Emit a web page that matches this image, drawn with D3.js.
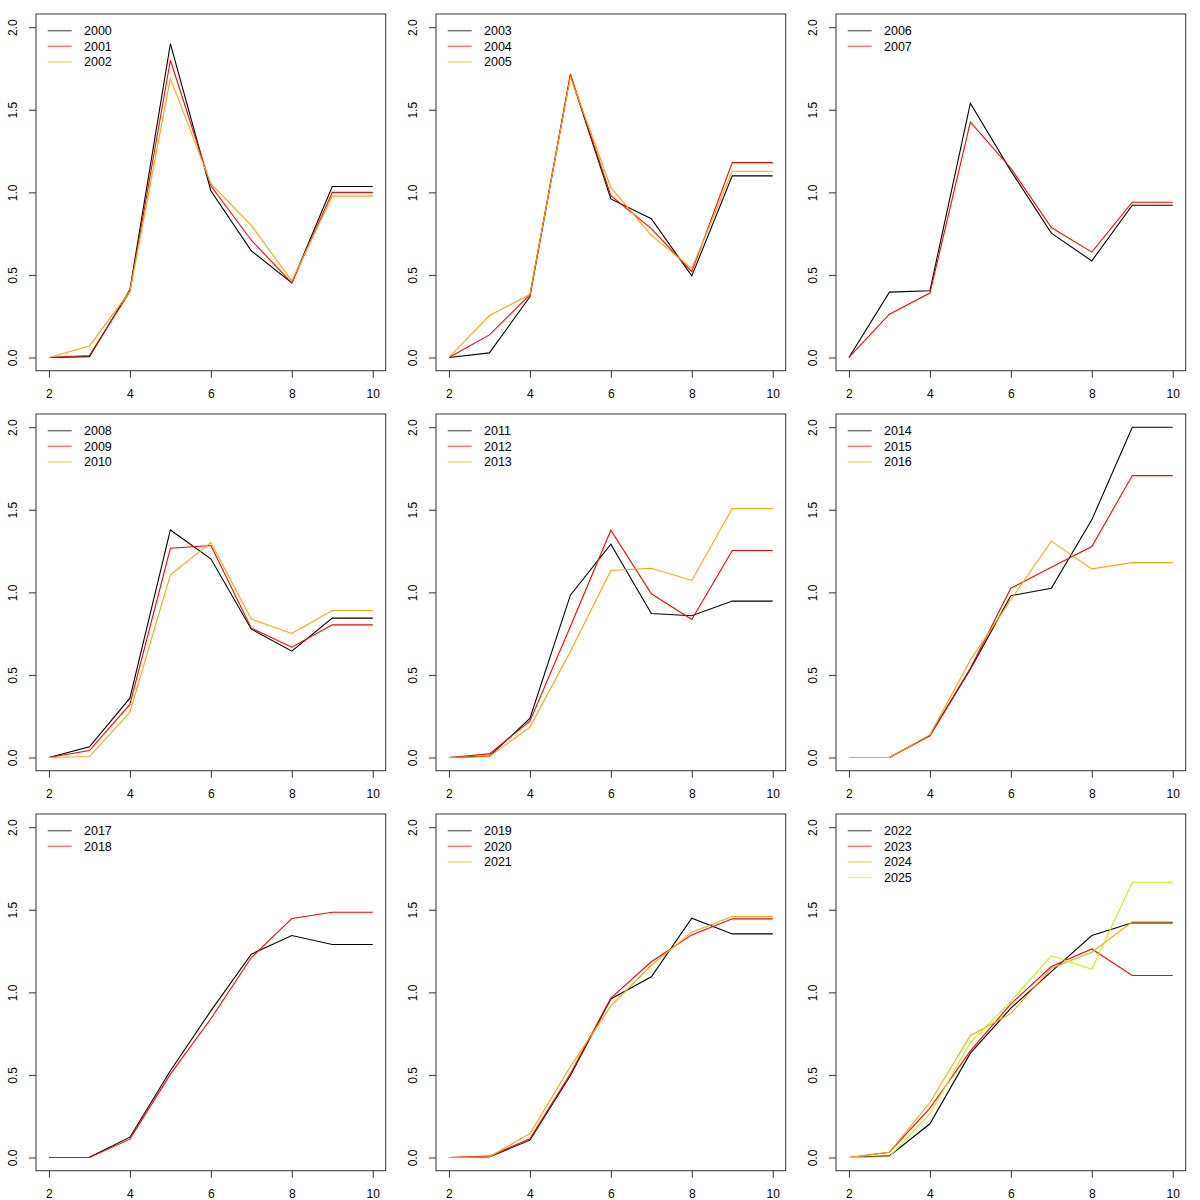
<!DOCTYPE html>
<html>
<head>
<meta charset="utf-8">
<script src="https://cdn.jsdelivr.net/npm/d3@7"></script>
<style>
  body { margin: 0; background: #fff; }
  svg { display: block; font-family: "Liberation Sans", Arial, Helvetica, sans-serif; }
  .tick text { font-size: 12px; fill: #000; }
</style>
</head>
<body>
<div id="chart"></div>
<script>
/**
 * DATA
 * */
const ages = [2, 3, 4, 5, 6, 7, 8, 9, 10];
const yTicks = [0, 0.5, 1, 1.5, 2];
const xTicks = [2, 4, 6, 8, 10];

const y2000 = [0, 0.005, 0.41, 1.90, 1.01, 0.646, 0.452, 1.035, 1.035];
const y2001 = [0, 0.012, 0.40, 1.80, 1.04, 0.71, 0.452, 1.00, 1.00];
const y2002 = [0, 0.07, 0.40, 1.69, 1.053, 0.80, 0.464, 0.977, 0.977];
const y2003 = [0, 0.028, 0.367, 1.71, 0.96, 0.84, 0.494, 1.10, 1.10];
const y2004 = [0, 0.137, 0.38, 1.715, 0.98, 0.78, 0.52, 1.18, 1.18];
const y2005 = [0, 0.254, 0.381, 1.70, 1.03, 0.739, 0.54, 1.128, 1.128];
const y2006 = [0, 0.396, 0.404, 1.54, 1.13, 0.753, 0.585, 0.922, 0.922];
const y2007 = [0, 0.262, 0.39, 1.425, 1.146, 0.787, 0.638, 0.94, 0.94];
const y2008 = [0, 0.065, 0.359, 1.378, 1.203, 0.777, 0.644, 0.844, 0.844];
const y2009 = [0, 0.042, 0.321, 1.267, 1.284, 0.783, 0.668, 0.803, 0.803];
const y2010 = [0, 0.006, 0.274, 1.106, 1.302, 0.838, 0.751, 0.89, 0.89];
const y2011 = [0, 0.008, 0.236, 0.983, 1.292, 0.872, 0.858, 0.947, 0.947];
const y2012 = [0, 0.022, 0.22, 0.793, 1.376, 0.991, 0.836, 1.253, 1.253];
const y2013 = [0, 0.006, 0.184, 0.642, 1.132, 1.146, 1.072, 1.508, 1.508];
const y2014 = [0, 0, 0.133, 0.535, 0.98, 1.025, 1.439, 2.0, 2.0];
const y2015 = [0, 0, 0.133, 0.54, 1.025, 1.152, 1.277, 1.707, 1.707];
const y2016 = [0, 0, 0.137, 0.59, 0.955, 1.31, 1.142, 1.18, 1.18];
const y2017 = [0, 0.001, 0.123, 0.525, 0.888, 1.231, 1.344, 1.29, 1.29];
const y2018 = [0, 0, 0.111, 0.505, 0.84, 1.211, 1.447, 1.485, 1.485];
const y2019 = [0, 0.003, 0.105, 0.496, 0.96, 1.094, 1.449, 1.354, 1.354];
const y2020 = [0, 0.008, 0.113, 0.507, 0.965, 1.185, 1.348, 1.445, 1.445];
const y2021 = [0, 0.004, 0.145, 0.55, 0.918, 1.164, 1.364, 1.459, 1.459];
const y2022 = [0, 0.01, 0.204, 0.632, 0.904, 1.126, 1.344, 1.421, 1.421];
const y2023 = [0, 0.032, 0.299, 0.646, 0.93, 1.156, 1.263, 1.102, 1.102];
const y2024 = [0, 0.032, 0.333, 0.739, 0.872, 1.146, 1.243, 1.427, 1.427];
const y2025 = [0, 0.004, 0.264, 0.696, 0.945, 1.223, 1.14, 1.667, 1.667];

// which years go in which panel (row by row)
const panels = [
  [["2000", y2000], ["2001", y2001], ["2002", y2002]],
  [["2003", y2003], ["2004", y2004], ["2005", y2005]],
  [["2006", y2006], ["2007", y2007]],
  [["2008", y2008], ["2009", y2009], ["2010", y2010]],
  [["2011", y2011], ["2012", y2012], ["2013", y2013]],
  [["2014", y2014], ["2015", y2015], ["2016", y2016]],
  [["2017", y2017], ["2018", y2018]],
  [["2019", y2019], ["2020", y2020], ["2021", y2021]],
  [["2022", y2022], ["2023", y2023], ["2024", y2024], ["2025", y2025]]
];

const seriesColors = ["#000000", "#ff0000", "#ffa500", "#ccf000"];

/**
 * CONSTANTS
 * */
const width = 1200,
  height = 1200,
  cell = 400,
  margin = { top: 14, bottom: 29.3, left: 36, right: 14.3 };

const svg = d3
  .select("#chart")
  .append("svg")
  .attr("width", width)
  .attr("height", height);

// R style: 4% padding on both axes
const xScale = d3
  .scaleLinear()
  .domain([1.68, 10.32])
  .range([margin.left, cell - margin.right]);

const yScale = d3
  .scaleLinear()
  .domain([-0.08, 2.08])
  .range([cell - margin.bottom, margin.top]);

const line = d3
  .line()
  .x((d, i) => xScale(ages[i]))
  .y(d => yScale(d));

panels.forEach((series, p) => {
  const g = svg
    .append("g")
    .attr("transform", `translate(${(p % 3) * cell},${Math.floor(p / 3) * cell})`);

  // x axis
  const xAxis = g
    .append("g")
    .attr("transform", `translate(0,${cell - margin.bottom})`)
    .call(d3.axisBottom(xScale).tickValues(xTicks).tickSize(7).tickSizeOuter(0).tickPadding(12));
  xAxis.select(".domain").remove();
  xAxis.selectAll("line").attr("stroke", "#333");

  // y axis, labels rotated like R's las = 0
  const yAxis = g
    .append("g")
    .attr("transform", `translate(${margin.left},0)`)
    .call(d3.axisLeft(yScale).tickValues(yTicks).tickSize(7).tickSizeOuter(0).tickFormat(d3.format(".1f")));
  yAxis.select(".domain").remove();
  yAxis.selectAll("line").attr("stroke", "#333");
  yAxis
    .selectAll("text")
    .attr("x", 0)
    .attr("y", 0)
    .attr("dy", 0)
    .attr("text-anchor", "middle")
    .attr("transform", "translate(-18.7,0) rotate(-90)");

  // box
  g.append("rect")
    .attr("x", margin.left)
    .attr("y", margin.top)
    .attr("width", cell - margin.left - margin.right)
    .attr("height", cell - margin.top - margin.bottom)
    .attr("fill", "none")
    .attr("stroke", "#333");

  // lines
  g.selectAll(".series")
    .data(series)
    .join("path")
    .attr("class", "series")
    .attr("d", d => line(d[1]))
    .attr("fill", "none")
    .attr("stroke", (d, i) => seriesColors[i])
    .attr("stroke-width", 1.1);

  // legend, topleft, no box
  const legend = g
    .selectAll(".legend")
    .data(series)
    .join("g")
    .attr("class", "legend")
    .attr("transform", (d, i) => `translate(0,${30.7 + i * 15.6})`);

  legend
    .append("line")
    .attr("x1", 47.7)
    .attr("x2", 71.7)
    .attr("stroke", (d, i) => seriesColors[i])
    .attr("stroke-opacity", 0.6)
    .attr("stroke-width", 1.3);

  legend
    .append("text")
    .attr("x", 84)
    .attr("dy", "0.35em")
    .attr("font-size", 12.5)
    .text(d => d[0]);
});
</script>
</body>
</html>
